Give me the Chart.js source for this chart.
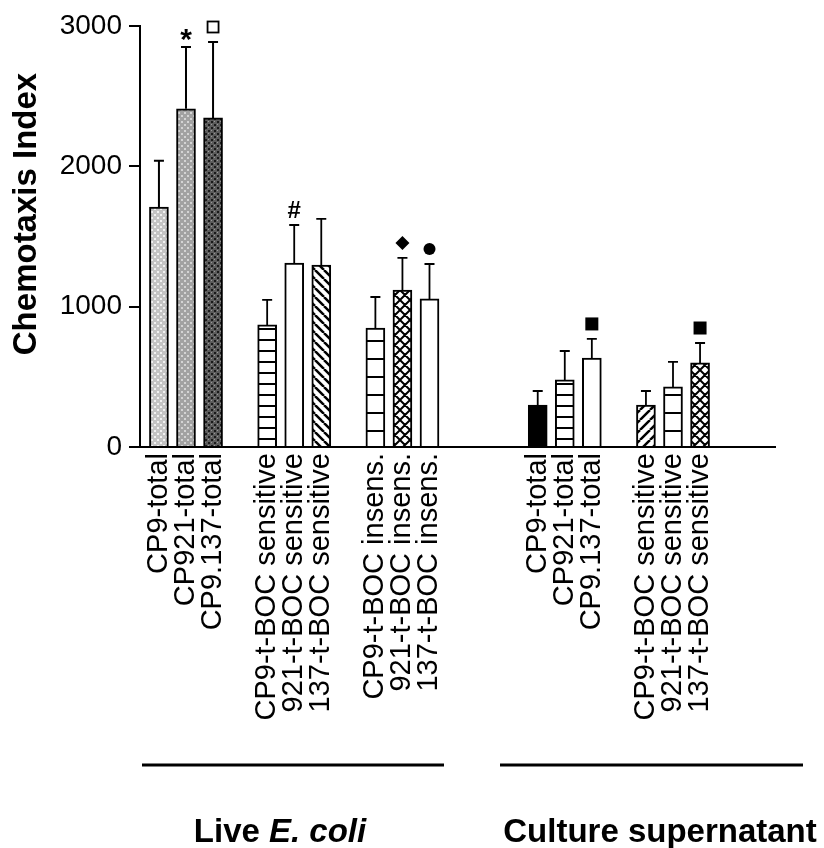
<!DOCTYPE html>
<html>
<head>
<meta charset="utf-8">
<script src="https://cdn.jsdelivr.net/npm/chart.js@4.4.1/dist/chart.umd.min.js"></script>
<style>
  html, body { margin: 0; padding: 0; background: #fff; }
  #wrap { width: 824px; height: 848px; }
</style>
</head>
<body>
<div id="wrap"><canvas id="chart" width="824" height="848"></canvas></div>
<script>
/* ---------------- DATA ---------------- */

const categories = [
  "CP9-total", "CP921-total", "CP9.137-total",
  "CP9-t-BOC sensitive", "921-t-BOC sensitive", "137-t-BOC sensitive",
  "CP9-t-BOC insens.", "921-t-BOC insens.", "137-t-BOC insens.",
  "CP9-total", "CP921-total", "CP9.137-total",
  "CP9-t-BOC sensitive", "921-t-BOC sensitive", "137-t-BOC sensitive"
];
// slot index of each bar along the x axis (gaps between groups)
const slots = [0, 1, 2, 4, 5, 6, 8, 9, 10, 14, 15, 16, 18, 19, 20];
const means = [1710, 2410, 2345, 870, 1311, 1297, 848, 1119, 1055, 299, 478, 634, 299, 428, 599];
const sems = [330, 441, 541, 178, 271, 328, 221, 228, 249, 100, 206, 136, 100, 178, 142];
const marks = ["", "star", "openSquare", "", "hash", "", "", "diamond", "dot", "", "", "square", "", "", "square"];
const yTicks = [0, 1000, 2000, 3000];
const groupNames = ["Live ", "E. coli", "Culture supernatant"];

/* ---------------- PATTERNS ---------------- */

const FONT = "'Liberation Sans', Arial, Helvetica, sans-serif";

function tile(size, draw) {
  const c = document.createElement("canvas");
  c.width = size; c.height = size;
  const g = c.getContext("2d");
  draw(g, size);
  return document.createElement("canvas").getContext("2d").createPattern(c, "repeat");
}

function speckle(base, dot, dot2) {
  return tile(6, (g, s) => {
    g.fillStyle = base; g.fillRect(0, 0, s, s);
    g.fillStyle = dot;
    g.fillRect(1, 1, 2, 2); g.fillRect(4, 4, 2, 2);
    if (dot2) { g.fillStyle = dot2; g.fillRect(4, 1, 1, 1); g.fillRect(1, 4, 1, 1); }
  });
}

function hLines(step) {
  return tile(step, (g, s) => {
    g.fillStyle = "#fff"; g.fillRect(0, 0, s, s);
    g.fillStyle = "#000"; g.fillRect(0, s - 2, s, 2);
  });
}

function diag(step, dir, lw) {
  return tile(step, (g, s) => {
    g.fillStyle = "#fff"; g.fillRect(0, 0, s, s);
    g.strokeStyle = "#000"; g.lineWidth = lw;
    g.beginPath();
    for (const k of [-s, 0, s]) {
      if (dir === "back" || dir === "both") { g.moveTo(k, 0); g.lineTo(k + s, s); }
      if (dir === "fwd" || dir === "both") { g.moveTo(k, s); g.lineTo(k + s, 0); }
    }
    g.stroke();
  });
}

const fills = {
  light: speckle("#c4c4c4", "#f2f2f2"),
  mid: speckle("#a2a2a2", "#d4d4d4"),
  dark: speckle("#5c5c5c", "#1a1a1a", "#9a9a9a"),
  hFine: hLines(11),
  hWide: hLines(18),
  white: "#fff",
  black: "#000",
  back: diag(9, "back", 2.5),
  fwd: diag(10, "fwd", 2.5),
  cross: diag(10, "both", 2)
};
const barFill = ["light", "mid", "dark", "hFine", "white", "back", "hWide", "cross", "white",
                 "black", "hFine", "white", "fwd", "hWide", "cross"];

/* ---------------- MARKERS ---------------- */

function drawMark(ctx, kind, x, cy) {
  ctx.fillStyle = "#000"; ctx.strokeStyle = "#000";
  ctx.textAlign = "center"; ctx.textBaseline = "alphabetic";
  if (kind === "star") {
    ctx.font = "bold 30px " + FONT;
    ctx.fillText("*", x, cy + 17);
  } else if (kind === "hash") {
    ctx.font = "bold 24px " + FONT;
    ctx.fillText("#", x, cy + 8);
  } else if (kind === "openSquare") {
    ctx.lineWidth = 1.8;
    ctx.strokeRect(x - 5.5, cy - 5.5, 11, 11);
  } else if (kind === "square") {
    ctx.fillRect(x - 6.5, cy - 6.5, 13, 13);
  } else if (kind === "diamond") {
    ctx.beginPath();
    ctx.moveTo(x, cy - 7); ctx.lineTo(x + 7, cy); ctx.lineTo(x, cy + 7); ctx.lineTo(x - 7, cy);
    ctx.closePath(); ctx.fill();
  } else if (kind === "dot") {
    ctx.beginPath(); ctx.arc(x, cy, 6, 0, Math.PI * 2); ctx.fill();
  }
}

const decorations = {
  id: "decorations",
  afterDatasetsDraw(chart) {
    const ctx = chart.ctx;
    const y = chart.scales.y;
    const meta = chart.getDatasetMeta(0);
    ctx.save();
    ctx.strokeStyle = "#000"; ctx.lineWidth = 2;
    meta.data.forEach((bar, i) => {
      const top = y.getPixelForValue(means[i] + sems[i]);
      ctx.beginPath();
      ctx.moveTo(bar.x, bar.y); ctx.lineTo(bar.x, top);
      ctx.moveTo(bar.x - 5, top); ctx.lineTo(bar.x + 5, top);
      ctx.stroke();
      if (marks[i]) drawMark(ctx, marks[i], bar.x, top - 15);
    });
    ctx.restore();
  },
  afterDraw(chart) {
    const ctx = chart.ctx;
    ctx.save();
    ctx.fillStyle = "#000"; ctx.strokeStyle = "#000";

    // y axis title
    ctx.save();
    ctx.translate(27, 214);
    ctx.rotate(-Math.PI / 2);
    ctx.font = "bold 33px " + FONT;
    ctx.textAlign = "center"; ctx.textBaseline = "middle";
    ctx.fillText("Chemotaxis Index", 0, 0);
    ctx.restore();

    // group brackets
    ctx.lineWidth = 3;
    ctx.beginPath();
    ctx.moveTo(142, 765); ctx.lineTo(444, 765);
    ctx.moveTo(500, 765); ctx.lineTo(803, 765);
    ctx.stroke();

    // group names
    ctx.textBaseline = "alphabetic"; ctx.textAlign = "left";
    const bold = "bold 33px " + FONT, boldIt = "italic bold 33px " + FONT;
    ctx.font = bold; const w1 = ctx.measureText(groupNames[0]).width;
    ctx.font = boldIt; const w2 = ctx.measureText(groupNames[1]).width;
    let x0 = 280 - (w1 + w2) / 2;
    ctx.font = bold; ctx.fillText(groupNames[0], x0, 842);
    ctx.font = boldIt; ctx.fillText(groupNames[1], x0 + w1, 842);
    ctx.font = bold; ctx.textAlign = "center";
    ctx.fillText(groupNames[2], 660, 842);
    ctx.restore();
  }
};

/* ---------------- CHART ---------------- */

new Chart(document.getElementById("chart"), {
  type: "bar",
  data: {
    datasets: [{
      data: slots.map((s, i) => ({ x: s, y: means[i] })),
      backgroundColor: barFill.map((k) => fills[k]),
      borderColor: "#000",
      borderWidth: 2,
      barThickness: 19
    }]
  },
  options: {
    responsive: false,
    animation: false,
    devicePixelRatio: 1,
    layout: { padding: { top: 26, right: 49, left: 0, bottom: 0 } },
    plugins: { legend: { display: false }, tooltip: { enabled: false } },
    scales: {
      x: {
        type: "linear",
        offset: false,
        min: -0.7,
        max: 22.77,
        afterBuildTicks: (axis) => { axis.ticks = slots.map((v) => ({ value: v })); },
        afterFit: (axis) => { axis.height = 401; },
        grid: { display: false, drawTicks: false },
        border: { display: true, color: "#000", width: 2 },
        ticks: {
          autoSkip: false,
          minRotation: 90,
          maxRotation: 90,
          padding: 6,
          color: "#000",
          font: { family: FONT, size: 29 },
          callback: (v, i) => categories[i]
        }
      },
      y: {
        min: 0,
        max: 3000,
        afterBuildTicks: (axis) => { axis.ticks = yTicks.map((v) => ({ value: v })); },
        afterFit: (axis) => { axis.width = 140; },
        grid: { display: true, drawOnChartArea: false, drawTicks: true, tickLength: 11, color: "#000", lineWidth: 2 },
        border: { display: true, color: "#000", width: 2 },
        ticks: {
          padding: 7,
          color: "#000",
          font: { family: FONT, size: 28 },
          callback: (v) => String(v)
        }
      }
    }
  },
  plugins: [decorations]
});
</script>
</body>
</html>
